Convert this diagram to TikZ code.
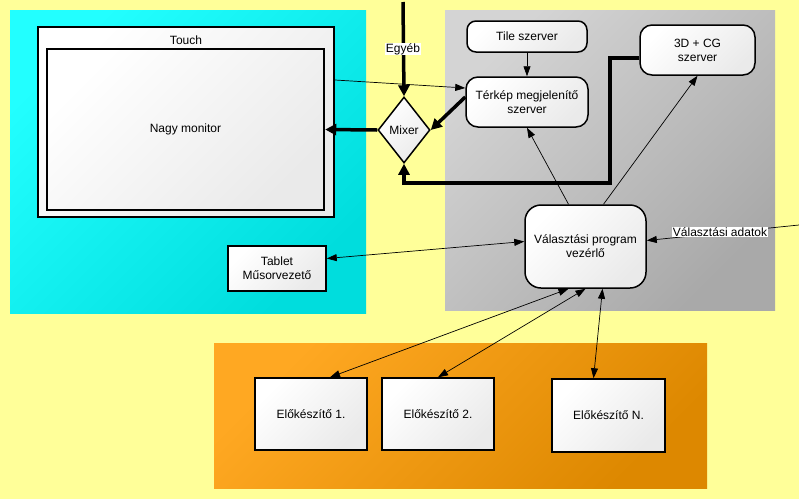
\documentclass[tikz,border=0pt]{standalone}
\usepackage{fontspec}
\setmainfont{Liberation Sans}
\usepackage{xcolor}
\usetikzlibrary{arrows.meta, positioning, shapes.geometric}

\definecolor{bgyellow}{HTML}{FFFF99}
\definecolor{cyanhi}{HTML}{22FFFF}
\definecolor{cyanlo}{HTML}{00DDDD}
\definecolor{grayhi}{HTML}{D4D4D4}
\definecolor{graylo}{HTML}{A9A9A9}
\definecolor{orangehi}{HTML}{FFA822}
\definecolor{orangelo}{HTML}{DD8800}
\definecolor{boxlo}{HTML}{EAEAEA}

\begin{document}
\begin{tikzpicture}[
  x=1pt, y=-1pt,
  font=\fontsize{12}{14}\selectfont,
  box/.style={draw, line width=1.5pt, top color=white, bottom color=boxlo, shading angle=45, align=center, inner sep=2pt},
  rbox/.style={box, rounded corners=12pt},
  plain/.style={box, rounded corners=0pt},
  tag/.style={fill=white, inner sep=0.5pt},
  thinarr/.style={line width=0.7pt, -{Triangle[length=10pt, width=7pt]}},
  botharr/.style={line width=0.7pt, {Triangle[length=10pt, width=7pt]}-{Triangle[length=10pt, width=7pt]}},
  thickarr/.style={line width=3.5pt, -{Triangle[length=11pt, width=11pt]}},
]
\fill[bgyellow] (0,0) rectangle (799,499);
\useasboundingbox (0,0) rectangle (799,499);
\shade[top color=cyanhi, bottom color=cyanlo, shading angle=45] (10,10) rectangle (366,313);
\shade[top color=grayhi, bottom color=graylo, shading angle=45] (445,10) rectangle (775,310);
\shade[top color=orangehi, bottom color=orangelo, shading angle=45] (214,343) rectangle (707,488);

\node[plain, line width=2pt, minimum width=296pt, minimum height=190pt] (touch) at (186,122) {};
\node (touchlbl) at (186,40) {Touch};
\node[plain, line width=2.5pt, minimum width=277pt, minimum height=161pt] (monitor) at (185.5,129.5) {Nagy monitor};
\node[box, diamond, minimum width=52pt, minimum height=66pt, inner sep=0pt] (mixer) at (404,130) {Mixer};
\node[rbox, rounded corners=9pt, minimum width=120pt, minimum height=31pt] (tile) at (527,36.5) {Tile szerver};
\node[rbox, minimum width=122pt, minimum height=50pt] (terkep) at (527,102) {Térkép megjelenítő\\szerver};
\node[rbox, minimum width=115pt, minimum height=50pt] (cg) at (697.5,50) {3D + CG\\szerver};
\node[rbox, rounded corners=16pt, minimum width=121pt, minimum height=83pt] (valaszt) at (585.5,246.5) {Választási program\\vezérlő};
\node[plain, minimum width=98pt, minimum height=45pt] (tablet) at (277,268.5) {Tablet\\Műsorvezető};
\node[plain, minimum width=112pt, minimum height=72pt] (elo1) at (311,414) {Előkészítő 1.};
\node[plain, minimum width=112pt, minimum height=72pt] (elo2) at (438,414) {Előkészítő 2.};
\node[plain, minimum width=113pt, minimum height=73pt] (eloN) at (608.5,415.5) {Előkészítő N.};

\coordinate (egyebtop) at (403,2);
\coordinate (adatin) at (799,225);
\coordinate (bend) at (610,183);

\draw[thickarr] (egyebtop) -- (mixer.north);
\node[tag] (egyeb) at (403,49) {Egyéb};
\draw[thickarr] (mixer.west) -- (monitor.east);
\draw[thickarr] ([yshift=5pt]terkep.west) -- (mixer.east);
\draw[thickarr, rounded corners=0pt] ([yshift=-8pt]cg.west) -| (bend) -| (mixer.south);
\draw[thinarr] ([yshift=42pt]touch.east) -- ([yshift=14pt]terkep.west);
\draw[thinarr] (tile.south) -- (terkep.north);
\draw[thinarr] ([xshift=-17pt]valaszt.north) -- (terkep.south);
\draw[thinarr] ([xshift=18pt]valaszt.north) -- (cg.south);
\draw[botharr] ([yshift=10pt]tablet.east) -- ([yshift=5pt]valaszt.west);
\draw[thinarr] (adatin) -- ([yshift=6pt]valaszt.east);
\node[tag] (adatlbl) at (720,232) {Választási adatok};
\draw[botharr] ([xshift=-17pt]valaszt.south) -- ([xshift=19pt]elo1.north);
\draw[botharr] (valaszt.south) -- (elo2.north);
\draw[botharr] ([xshift=17pt]valaszt.south) -- ([xshift=-15pt]eloN.north);
\end{tikzpicture}
\end{document}
